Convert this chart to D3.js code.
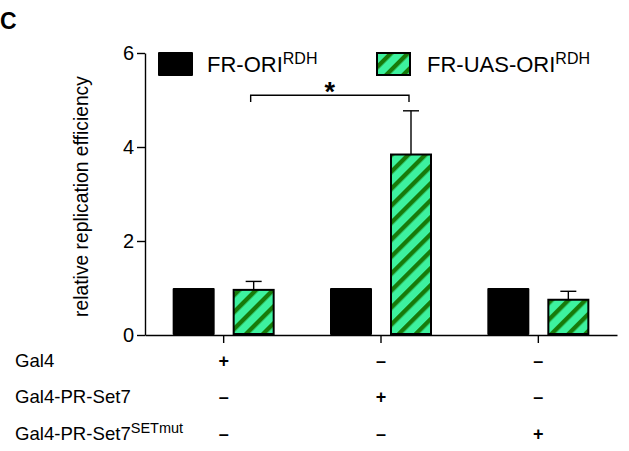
<!DOCTYPE html>
<html>
<head>
<meta charset="utf-8">
<script src="https://cdn.jsdelivr.net/npm/d3@7"></script>
<style>
  html, body { margin: 0; padding: 0; background: #fff; }
  svg { display: block; font-family: "Liberation Sans", Arial, Helvetica, sans-serif; }
</style>
</head>
<body>
<svg id="chart" width="629" height="451"></svg>
<script>
// Conditions along the x axis (one group per transfection)
const groups = ["Gal4", "Gal4-PR-Set7", "Gal4-PR-Set7 SETmut"];
// Plasmid series
const series = ["FR-ORI", "FR-UAS-ORI"];
// Relative replication efficiency, mean per group
const oriValues = [1.0, 1.0, 1.0];
const uasValues = [0.96, 3.84, 0.75];
// Upper error (SD) on the FR-UAS-ORI bars
const uasErrors = [0.18, 0.93, 0.18];
// Y axis ticks
const yTicks = [0, 2, 4, 6];
// Condition matrix printed under the axis (+ / –)
const rowLabels = ["Gal4", "Gal4-PR-Set7", "Gal4-PR-Set7"];
const rowSup = ["", "", "SETmut"];
const matrix = [
  ["+", "–", "–"],
  ["–", "+", "–"],
  ["–", "–", "+"]
];

const svg = d3.select("#chart");
const margin = { left: 145, right: 12, top: 53, bottom: 116 };
const W = 629, H = 451;

const x = d3.scaleBand().domain(groups).range([margin.left, W - margin.right]).padding(0);
const inner = 102;
const xSub = d3.scaleBand().domain(series)
  .range([(x.bandwidth() - inner) / 2, (x.bandwidth() + inner) / 2])
  .paddingInner(0.3).paddingOuter(0);
const y = d3.scaleLinear().domain([0, 6]).range([H - margin.bottom, margin.top]);

const green = "#3DF29F", stripe = "#177A0A";

// Diagonal hatch for FR-UAS-ORI
const defs = svg.append("defs");
const pat = defs.append("pattern")
  .attr("id", "hatch")
  .attr("patternUnits", "userSpaceOnUse")
  .attr("width", 12).attr("height", 12)
  .attr("patternTransform", "rotate(45)");
pat.append("rect").attr("width", 12).attr("height", 12).attr("fill", green);
pat.append("rect").attr("x", 0).attr("width", 4.4).attr("height", 12).attr("fill", stripe);

// Panel letter
svg.append("text").attr("x", 0).attr("y", 29)
  .attr("font-size", 23).attr("font-weight", "bold").text("C");

// Axes
const yAxis = d3.axisLeft(y).tickValues(yTicks).tickFormat(d3.format("d"))
  .tickSize(8).tickPadding(3).tickSizeOuter(0);
const gy = svg.append("g").attr("transform", `translate(${margin.left},0)`).call(yAxis);
gy.selectAll("text").attr("font-size", 20).attr("fill", "#000").attr("font-family", null);
gy.selectAll("path,line").attr("stroke", "#000").attr("stroke-width", 1.4);

const xAxis = d3.axisBottom(x).tickSize(8).tickSizeOuter(0).tickFormat("");
const gx = svg.append("g").attr("transform", `translate(0,${y(0)})`).call(xAxis);
gx.selectAll("path,line").attr("stroke", "#000").attr("stroke-width", 1.4);

// Y label
svg.append("text")
  .attr("transform", `translate(88,196.5) rotate(-90)`)
  .attr("text-anchor", "middle")
  .attr("font-size", 19.3)
  .text("relative replication efficiency");

// Bars
const bw = xSub.bandwidth();
const barsG = svg.append("g");
groups.forEach((g, i) => {
  const x0 = x(g);
  barsG.append("rect")
    .attr("x", x0 + xSub("FR-ORI"))
    .attr("y", y(oriValues[i]))
    .attr("width", bw)
    .attr("height", y(0) - y(oriValues[i]))
    .attr("rx", 1)
    .attr("fill", "#000");
  const ux = x0 + xSub("FR-UAS-ORI");
  // error bar (upper only)
  const cx = ux + bw / 2;
  barsG.append("line")
    .attr("x1", cx).attr("x2", cx)
    .attr("y1", y(uasValues[i])).attr("y2", y(uasValues[i] + uasErrors[i]))
    .attr("stroke", "#000").attr("stroke-width", 1.4);
  barsG.append("line")
    .attr("x1", cx - 8).attr("x2", cx + 8)
    .attr("y1", y(uasValues[i] + uasErrors[i])).attr("y2", y(uasValues[i] + uasErrors[i]))
    .attr("stroke", "#000").attr("stroke-width", 1.4);
  barsG.append("rect")
    .attr("x", ux + 1)
    .attr("y", y(uasValues[i]))
    .attr("width", bw - 2)
    .attr("height", y(0) - y(uasValues[i]) - 1)
    .attr("fill", "url(#hatch)")
    .attr("stroke", "#000").attr("stroke-width", 2);
});

// Significance bracket between Gal4 and Gal4-PR-Set7 (FR-UAS-ORI)
const bx1 = x(groups[0]) + xSub("FR-UAS-ORI") + bw / 2 - 3;
const bx2 = x(groups[1]) + xSub("FR-UAS-ORI") + bw / 2 - 2;
const by = y(5.1), byEnd = y(4.96);
svg.append("path")
  .attr("d", `M${bx1},${byEnd}V${by}H${bx2}V${byEnd}`)
  .attr("fill", "none").attr("stroke", "#000").attr("stroke-width", 1.4);
svg.append("text")
  .attr("x", (bx1 + bx2) / 2).attr("y", by + 6)
  .attr("text-anchor", "middle").attr("font-size", 27).attr("font-weight", "bold")
  .text("*");

// Legend
const leg = svg.append("g");
leg.append("rect").attr("x", 158).attr("y", 52).attr("width", 35).attr("height", 24)
  .attr("rx", 1).attr("fill", "#000");
const t1 = leg.append("text").attr("x", 207).attr("y", 72).attr("font-size", 22);
t1.append("tspan").text("FR-ORI");
t1.append("tspan").attr("font-size", 16).attr("dy", -8.5).text("RDH");
leg.append("rect").attr("x", 377).attr("y", 53).attr("width", 33).attr("height", 22)
  .attr("fill", "url(#hatch)").attr("stroke", "#000").attr("stroke-width", 2);
const t2 = leg.append("text").attr("x", 427).attr("y", 72).attr("font-size", 22);
t2.append("tspan").text("FR-UAS-ORI");
t2.append("tspan").attr("font-size", 16).attr("dy", -8.5).text("RDH");

// Condition matrix
const rowY = [366.7, 403.3, 440];
rowLabels.forEach((lab, r) => {
  const t = svg.append("text").attr("x", 15).attr("y", rowY[r]).attr("font-size", 18.6);
  t.append("tspan").text(lab);
  if (rowSup[r]) t.append("tspan").attr("font-size", 14.5).attr("dy", -7).text(rowSup[r]);
  groups.forEach((g, c) => {
    svg.append("text")
      .attr("x", x(g) + x.bandwidth() / 2)
      .attr("y", rowY[r])
      .attr("text-anchor", "middle")
      .attr("font-size", 18).attr("font-weight", "bold")
      .text(matrix[r][c]);
  });
});
</script>
</body>
</html>
